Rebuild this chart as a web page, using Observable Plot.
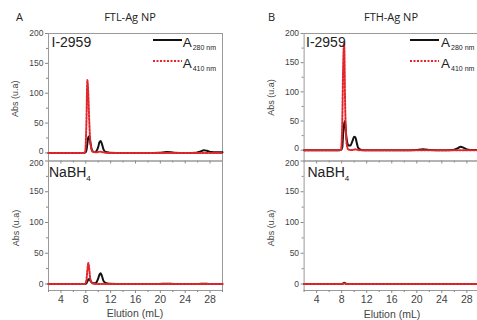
<!DOCTYPE html>
<html>
<head>
<meta charset="utf-8">
<script src="https://cdn.jsdelivr.net/npm/d3@7"></script>
<script src="https://cdn.jsdelivr.net/npm/@observablehq/plot@0.6"></script>
<style>
  body { margin: 0; background: #fff; }
  #root { position: relative; width: 477px; height: 320px; overflow: hidden; background: #fff; }
  #root > svg, #root > div { position: absolute; }
</style>
</head>
<body>
<div id="root"></div>
<script>
// Elution volume grid (mL)
const elution = [2, 4, 6, 7.6, 7.9, 8.1, 8.25, 8.4, 8.55, 8.7, 8.9, 9.1, 9.4, 9.7, 10.0, 10.2, 10.4, 10.6, 10.85, 11.2, 11.8, 14, 18, 19.8, 21, 22.2, 24, 25.8, 26.5, 27, 27.5, 28.2, 29, 30];

// FTL-Ag NP, I-2959
const ftlI_a280 = [0,0,0,0,0.5,4,15,26,28,20,8,3,1.5,3,10,18,20,15,6,1.5,0.5,0,0,0.3,1.5,0.5,0,0.5,2.5,4.5,3.5,1.5,1,1];
const ftlI_a410 = [0,0,0,0,2,50,122,100,55,22,7,2,1.5,1,1.5,2,2,1.5,1,0.5,0,0,0,0,0,0,0,0,0,0,0,0,0,0];
// FTH-Ag NP, I-2959
const fthI_a280 = [0,0,0,0,0.5,5,30,45,50,28,13,8,8,15,23,22,13,5,2,0.5,0,0,0,0.5,1.5,0.5,0,0.5,3,6,4,1,0.5,0.5];
const fthI_a410 = [0,0,0,0,1,50,150,183,80,25,5,1,0.5,0.5,1,1.5,1,0.5,0,0,0,0,0,0,0,0,0,0,0,0,0,0,0,0];
// FTL-Ag NP, NaBH4
const ftlN_a280 = [0,0,0,0,0,1,4,7,8,6,3,1.5,1,2.5,9,15,17.5,13,5,1.5,0.5,0,0,0,0.5,0,0,0,0.3,0.5,0.3,0,0,0];
const ftlN_a410 = [0,0,0,0,0.5,6,22,34,25,10,3,1,0.5,0,0,0,0,0,0,0,0,0,0,0,0,0,0,0,0,0,0,0,0,0];
// FTH-Ag NP, NaBH4
const fthN_a280 = [0,0,0,0,0,0.3,1,2,1.5,0.5,0,0,0,0,0,0,0,0,0,0,0,0,0,0,0,0,0,0,0,0,0,0,0,0];
const fthN_a410 = [0,0,0,0,0,0,0.5,1,0.5,0,0,0,0,0,0,0,0,0,0,0,0,0,0,0,0,0,0,0,0,0,0,0,0,0];

const majorX = [4, 8, 12, 16, 20, 24, 28];
const minorX = [2, 6, 10, 14, 18, 22, 26, 30];
const majorY = [0, 50, 100, 150, 200];
const minorY = [25, 75, 125, 175];

const BLACK = "#111";
const RED = "#e3262b";
const DASH = "2,1.5";
const FONT = "'Liberation Sans', Arial, sans-serif";

function toRows(ys) { return elution.map((x, i) => ({x, y: ys[i]})); }

function panel({left, top, width, height, ml, mr, mt, mb, ydom, a280, a410, labels}) {
  // top panels: nudge the "0" label up; bottom panels: nudge the "200" label down
  const edgeTick = labels ? 200 : 0;
  const edgeDy = labels ? 2.5 : -2;
  const p = Plot.plot({
    width, height,
    marginLeft: ml, marginRight: mr, marginTop: mt, marginBottom: mb,
    x: {domain: [2, 30]},
    y: {domain: ydom},
    style: {fontFamily: FONT, color: "#444", background: "transparent", overflow: "visible"},
    marks: [
      Plot.frame({stroke: "#9a9a9a", strokeWidth: 1}),
      Plot.axisY({ticks: majorY, tickSize: 3, tickFormat: () => "", label: null, stroke: "#888"}),
      Plot.axisY({ticks: majorY.filter(d => d !== edgeTick), tickSize: 0, tickPadding: 5, fontSize: 8.5, label: null, fill: "#444"}),
      Plot.axisY({ticks: [edgeTick], tickSize: 0, tickPadding: 5, fontSize: 8.5, label: null, fill: "#444", dy: edgeDy}),
      Plot.axisY({ticks: minorY, tickSize: 2, tickFormat: () => "", label: null, stroke: "#888"}),
      Plot.axisX({ticks: majorX, tickSize: 3, tickPadding: 2, fontSize: 10.5, label: null,
        tickFormat: labels ? (d => d) : (() => ""), stroke: "#888", fill: "#444"}),
      Plot.axisX({ticks: minorX, tickSize: 2, tickFormat: () => "", label: null, stroke: "#888"}),
      Plot.line(toRows(a280), {x: "x", y: "y", stroke: BLACK, strokeWidth: 2, curve: "monotone-x"}),
      Plot.line(toRows(a410), {x: "x", y: "y", stroke: RED, strokeWidth: 2, strokeDasharray: DASH, curve: "monotone-x"})
    ]
  });
  p.style.left = left + "px";
  p.style.top = top + "px";
  return p;
}

const root = document.getElementById("root");
root.appendChild(panel({left: 0, top: 25, width: 230, height: 140, ml: 48, mr: 8, mt: 8, mb: 4.5, ydom: [-13.5, 200], a280: ftlI_a280, a410: ftlI_a410, labels: false}));
root.appendChild(panel({left: 0, top: 150, width: 230, height: 170, ml: 48, mr: 8, mt: 10.5, mb: 30, ydom: [-10.6, 200], a280: ftlN_a280, a410: ftlN_a410, labels: true}));
root.appendChild(panel({left: 255, top: 25, width: 232, height: 140, ml: 48.6, mr: 8.1, mt: 8, mb: 4.5, ydom: [-18.5, 200], a280: fthI_a280, a410: fthI_a410, labels: false}));
root.appendChild(panel({left: 255, top: 150, width: 232, height: 170, ml: 48.6, mr: 8.1, mt: 10.5, mb: 30, ydom: [-10.5, 200], a280: fthN_a280, a410: fthN_a410, labels: true}));

// Text overlay
const ov = d3.select(root).append("svg")
  .attr("width", 477).attr("height", 320)
  .style("left", "0px").style("top", "0px").style("pointer-events", "none");

function txt(x, y, s, size, opts = {}) {
  const t = ov.append("text").attr("x", x).attr("y", y).text(s)
    .attr("font-size", size).attr("font-family", opts.font || FONT)
    .attr("fill", opts.fill || "#222")
    .attr("text-anchor", opts.anchor || "start");
  if (opts.rotate) t.attr("transform", `rotate(-90 ${x} ${y})`);
  return t;
}

const TFONT = "'Open Sans', 'Noto Sans', sans-serif";
txt(16, 21, "A", 11, {font: TFONT});
txt(130, 21, "FTL-Ag NP", 11, {font: TFONT, anchor: "middle"});
txt(268, 21, "B", 11, {font: TFONT});
txt(391, 21, "FTH-Ag NP", 11, {font: TFONT, anchor: "middle"});

// y-axis labels
[[18.5, 98.7], [18.5, 228], [273.5, 97.5], [273.5, 228]].forEach(([x, y]) =>
  txt(x, y, "Abs (u.a)", 9, {anchor: "middle", rotate: true, fill: "#444"}));

// x-axis labels
txt(135, 316.5, "Elution (mL)", 10.5, {anchor: "middle", fill: "#444"});
txt(392, 318, "Elution (mL)", 10.5, {anchor: "middle", fill: "#444"});

// Panel condition labels
txt(51.5, 46.7, "I-2959", 14);
txt(306, 46.7, "I-2959", 14);
function nabh(x, y) {
  const t = txt(x, y, "NaBH", 14);
  t.append("tspan").attr("font-size", 8).attr("dy", 4).text("4");
}
nabh(49, 176.5);
nabh(307.5, 177);

// Legends
function legend(x0, x1, xt) {
  ov.append("line").attr("x1", x0).attr("x2", x1).attr("y1", 40).attr("y2", 40)
    .attr("stroke", BLACK).attr("stroke-width", 2);
  ov.append("line").attr("x1", x0).attr("x2", x1).attr("y1", 61).attr("y2", 61)
    .attr("stroke", RED).attr("stroke-width", 2).attr("stroke-dasharray", DASH);
  const a = txt(xt, 46.7, "A", 13.5);
  a.append("tspan").attr("font-size", 7).attr("dy", 3.5).attr("dx", 1).text("280 nm");
  const b = txt(xt, 67.7, "A", 13.5);
  b.append("tspan").attr("font-size", 7).attr("dy", 3.5).attr("dx", 1).text("410 nm");
}
legend(153, 182, 182.7);
legend(410, 439, 441);
</script>
</body>
</html>
